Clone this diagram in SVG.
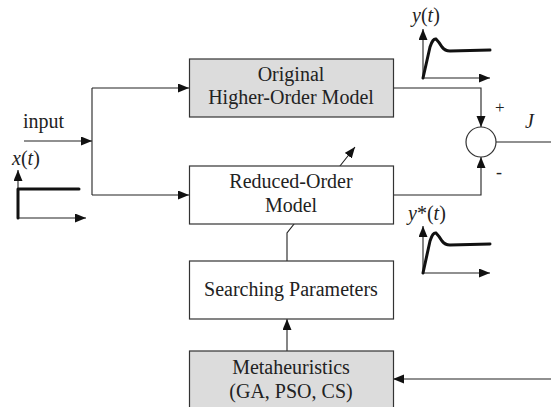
<svg xmlns="http://www.w3.org/2000/svg" width="551" height="407" viewBox="0 0 551 407" font-family="'Liberation Serif', 'Times New Roman', 'DejaVu Serif', serif">
<defs>
<marker id="ah" markerUnits="userSpaceOnUse" markerWidth="12" markerHeight="10" refX="11" refY="4.5" orient="auto">
<path d="M0,0 L11,4.5 L0,9 z" fill="#111"/>
</marker>
<style>
.ln{fill:none;stroke:#222;stroke-width:1.1}
.th{fill:none;stroke:#111;stroke-width:3;stroke-linejoin:round;stroke-linecap:round}
.bx{stroke:#333;stroke-width:1.2}
.w{fill:#fff}
.g{fill:#dcdcdc}
text{font-family:'Liberation Serif','Times New Roman','DejaVu Serif',serif;fill:#222;font-size:20px}
.c{text-anchor:middle}
.it{font-style:italic}
</style>
</defs>
<rect width="551" height="407" fill="#fff"/>
<g id="connectors">
<path class="ln" d="M24,141 H92" marker-end="url(#ah)"/>
<path class="ln" d="M92,88 V195"/>
<path class="ln" d="M92,88 H189" marker-end="url(#ah)"/>
<path class="ln" d="M92,195 H189" marker-end="url(#ah)"/>
<path class="ln" d="M393,88 H481 V127" marker-end="url(#ah)"/>
<path class="ln" d="M393,195 H481 V157" marker-end="url(#ah)"/>
<path class="ln" d="M496,142 H551"/>
<path class="ln" d="M287,351 V319" marker-end="url(#ah)"/>
<path class="ln" d="M287,261 V233 L355,147" marker-end="url(#ah)"/>
<path class="ln" d="M551,379 H393" marker-end="url(#ah)"/>
</g>
<g id="node-original">
<rect class="bx g" x="189.5" y="59" width="204" height="58"/>
<text class="c" x="291" y="81">Original</text>
<text class="c" x="291" y="104">Higher-Order Model</text>
</g>
<g id="node-reduced">
<rect class="bx w" x="189.5" y="166" width="204" height="58"/>
<text class="c" x="291" y="188">Reduced-Order</text>
<text class="c" x="291" y="212">Model</text>
</g>
<g id="node-searching">
<rect class="bx w" x="189.5" y="261" width="204" height="58"/>
<text class="c" x="291" y="296">Searching Parameters</text>
</g>
<g id="node-meta">
<rect class="bx g" x="189.5" y="351" width="204" height="70"/>
<text class="c" x="291" y="374">Metaheuristics</text>
<text class="c" x="291" y="398">(GA, PSO, CS)</text>
</g>
<g id="node-sum">
<circle class="bx w" cx="481" cy="142" r="15"/>
<text x="495" y="113" style="font-size:17px">+</text>
<text x="496" y="178" style="font-size:18px">-</text>
<text class="it" x="525" y="128">J</text>
</g>
<g id="label-input">
<text x="23" y="128">input</text>
</g>
<g id="plot-x">
<text x="12" y="165"><tspan class="it">x</tspan>(<tspan class="it">t</tspan>)</text>
<path class="ln" d="M18,218 V170" marker-end="url(#ah)"/>
<path class="ln" d="M18,218 H86" marker-end="url(#ah)"/>
<path class="th" d="M18,218 V189 H79" stroke-linecap="butt"/>
</g>
<g id="plot-y">
<text x="412" y="22"><tspan class="it">y</tspan>(<tspan class="it">t</tspan>)</text>
<path class="ln" d="M423,78 V29" marker-end="url(#ah)"/>
<path class="ln" d="M423,78 H490" marker-end="url(#ah)"/>
<path class="th" d="M423,78 L430,47 Q433,38 436,39 Q439,42 442,47 Q445,51 450,51 L490,50"/>
</g>
<g id="plot-ystar">
<text x="408" y="220"><tspan class="it">y</tspan>*(<tspan class="it">t</tspan>)</text>
<path class="ln" d="M423,273 V226" marker-end="url(#ah)"/>
<path class="ln" d="M423,273 H490" marker-end="url(#ah)"/>
<path class="th" d="M423,273 L430,241 Q433,232 436,233 Q439,236 442,241 Q445,245 450,245 L490,244"/>
</g>
</svg>
